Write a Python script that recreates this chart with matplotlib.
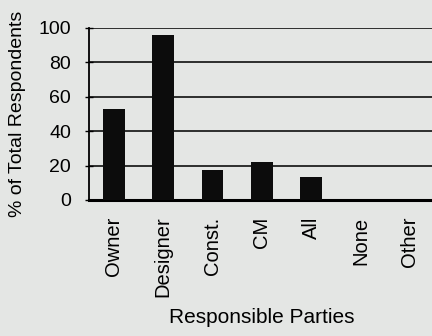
import matplotlib.pyplot as plt
import numpy as np

plt.rcParams['font.family'] = ['Liberation Sans', 'DejaVu Sans']

# Survey data
parties = ['Owner', 'Designer', 'Const.', 'CM', 'All', 'None', 'Other']
percent = [53, 96, 17.5, 22, 13.5, 0, 0]

bg = '#e4e6e4'
fig = plt.figure(figsize=(4.32, 3.36), dpi=100, facecolor=bg)
ax = fig.add_axes([0.206, 0.405, 0.80, 0.512], facecolor=bg)

x = np.arange(len(parties))
ax.bar(x, percent, width=0.44, color='#0c0c0c', zorder=3)

ax.set_xlim(-0.5, len(parties) - 0.5)
ax.set_ylim(0, 100)
ax.set_yticks([0, 20, 40, 60, 80, 100])
ax.yaxis.grid(True, color='#2e2e2e', linewidth=1.4, zorder=1)
ax.set_axisbelow(True)

ax.set_xticks(x)
ax.set_xticklabels(parties, rotation=90, fontsize=14.5)
ax.tick_params(axis='x', length=0, pad=12)
ax.tick_params(axis='y', labelsize=14, length=6, width=1, direction='inout', pad=10)

for side in ['top', 'right']:
    ax.spines[side].set_visible(False)
ax.spines['left'].set_linewidth(1.3)
ax.spines['bottom'].set_linewidth(2.2)

ax.set_ylabel('% of Total Respondents', fontsize=14)
ax.yaxis.set_label_coords(-0.181, 0.5)
ax.set_xlabel('Responsible Parties', fontsize=15, labelpad=8)

plt.savefig('out.png', dpi=100, facecolor=bg)
